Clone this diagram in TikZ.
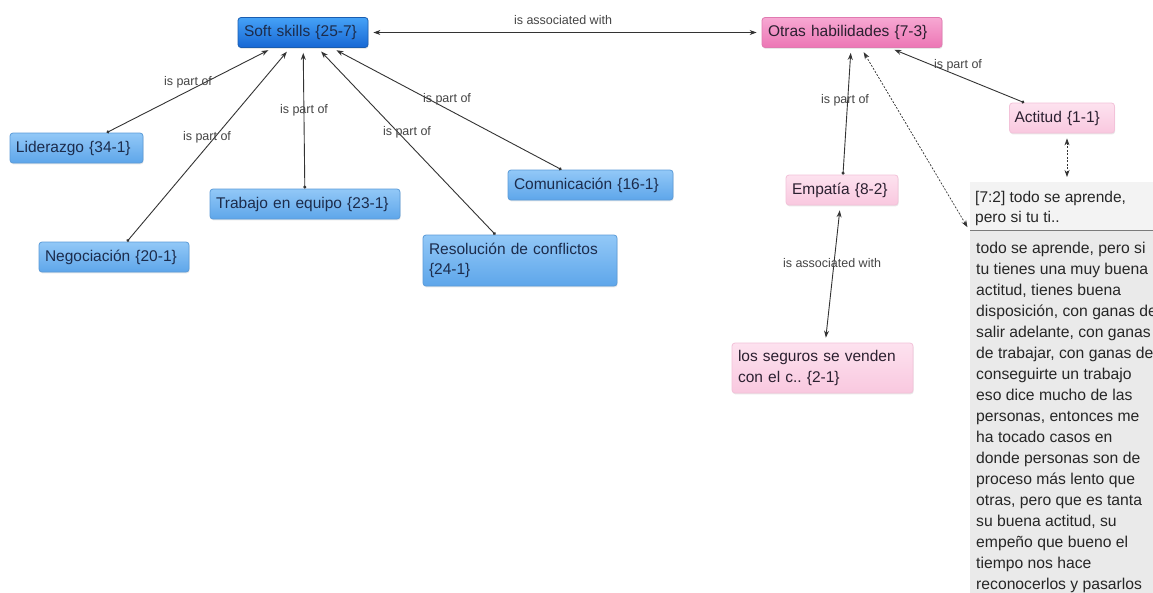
\documentclass[tikz,border=0pt]{standalone}
\usepackage{fontspec}
\setmainfont{Liberation Sans}
\usetikzlibrary{arrows.meta,shadows}
\frenchspacing

\definecolor{blueTop}{HTML}{92C8F7}
\definecolor{blueBot}{HTML}{5EA6EA}
\definecolor{blueLine}{HTML}{5B9BD8}
\definecolor{softTop}{HTML}{45A2F7}
\definecolor{softBot}{HTML}{1767D4}
\definecolor{softLine}{HTML}{1A5DB0}
\definecolor{magTop}{HTML}{F7A8D2}
\definecolor{magBot}{HTML}{EC76B5}
\definecolor{magLine}{HTML}{E07AB0}
\definecolor{pinkTop}{HTML}{FDE2EF}
\definecolor{pinkBot}{HTML}{F9C8DF}
\definecolor{pinkLine}{HTML}{F3C2D9}
\definecolor{quoteHead}{HTML}{F3F3F3}
\definecolor{quoteBody}{HTML}{EAEAEA}
\definecolor{quoteRule}{HTML}{7A7A7A}
\definecolor{linkGray}{HTML}{333333}
\definecolor{labelGray}{HTML}{454545}
\definecolor{navyText}{HTML}{1C2C4C}
\definecolor{plumText}{HTML}{2B2030}

\begin{document}
\begin{tikzpicture}[x=1pt,y=-1pt,
  nodefont/.style={font=\fontsize{15.5}{20.5}\selectfont},
  concept/.style={nodefont, rectangle, rounded corners=3pt, line width=0.8pt,
    inner xsep=6pt, inner ysep=2pt, minimum height=30pt, align=left,
    drop shadow={shadow xshift=0.6pt, shadow yshift=-1.4pt, opacity=0.18}},
  bluebox/.style={concept, draw=blueLine, top color=blueTop, bottom color=blueBot, text=navyText},
  softbox/.style={concept, draw=softLine, top color=softTop, bottom color=softBot, text=navyText},
  magbox/.style={concept, draw=magLine, top color=magTop, bottom color=magBot, text=plumText},
  pinkbox/.style={concept, draw=pinkLine, top color=pinkTop, bottom color=pinkBot, text=plumText},
  rel/.style={font=\fontsize{12.5}{14}\selectfont, text=labelGray, inner sep=0pt},
  link/.style={draw=linkGray, line width=0.9pt,
    {Circle[length=3pt]}-{Stealth[length=7pt,width=5pt]}, shorten >=5pt},
  twoway/.style={draw=linkGray, line width=0.9pt,
    {Stealth[length=7pt,width=5pt]}-{Stealth[length=7pt,width=5pt]}, shorten >=5pt, shorten <=5pt},
  dashlink/.style={twoway, line width=0.7pt, dash pattern=on 2pt off 1.5pt}
]
\clip (0,0) rectangle (1153,592);
\fill[white] (0,0) rectangle (1153,592);

% ---- concept nodes ----
\node[softbox, text width=118] (soft) at (303,32.5) {Soft skills \{25-7\}};
\node[magbox, text width=168] (otras) at (852,32.5) {Otras habilidades \{7-3\}};
\node[bluebox, text width=121] (lider) at (76.5,148) {Liderazgo \{34-1\}};
\node[bluebox, text width=138] (nego) at (114,257) {Negociación \{20-1\}};
\node[bluebox, text width=178] (trab) at (305,204) {Trabajo en equipo \{23-1\}};
\node[bluebox, text width=182, minimum height=51pt] (resol) at (520,260.5) {Resolución de conflictos\\\{24-1\}};
\node[bluebox, text width=153] (comu) at (590.5,185) {Comunicación \{16-1\}};
\node[pinkbox, text width=100] (emp) at (842,190) {Empatía \{8-2\}};
\node[pinkbox, text width=95, inner xsep=5pt] (acti) at (1062,118) {Actitud \{1-1\}};
\node[pinkbox, text width=169, minimum height=50pt] (seg) at (822.5,368) {los seguros se venden\\con el c.. \{2-1\}};

% ---- quotation box ----
\node[rectangle, fill=quoteBody, minimum width=200pt, minimum height=436pt,
      anchor=north west, inner sep=0pt] (quote) at (970,182) {};
\node[rectangle, fill=quoteHead, minimum width=200pt, minimum height=48pt,
      anchor=north west, inner sep=0pt] (qhead) at (quote.north west) {};
\draw[quoteRule, line width=1.6pt] (qhead.south west) -- (qhead.south east);
\node[font=\fontsize{15.5}{20.5}\selectfont, text=black!85, align=left,
      anchor=north west, inner sep=0pt] (qtitle) at (975,191)
  {[7:2] todo se aprende,\\pero si tu ti..};
\node[font=\fontsize{15.7}{21}\selectfont, text=black!85, align=left,
      anchor=north west, inner sep=0pt] (qtext) at (976,242)
  {todo se aprende, pero si\\
   tu tienes una muy buena\\
   actitud, tienes buena\\
   disposición, con ganas de\\
   salir adelante, con ganas\\
   de trabajar, con ganas de\\
   conseguirte un trabajo\\
   eso dice mucho de las\\
   personas, entonces me\\
   ha tocado casos en\\
   donde personas son de\\
   proceso más lento que\\
   otras, pero que es tanta\\
   su buena actitud, su\\
   empeño que bueno el\\
   tiempo nos hace\\
   reconocerlos y pasarlos};

% ---- connectors ----
\draw[twoway] (soft) -- (otras);
\draw[link] (lider) -- (soft);
\draw[link] (nego) -- (soft);
\draw[link] (trab) -- (soft);
\draw[link] (resol) -- (soft);
\draw[link] (comu) -- (soft);
\draw[link] (emp) -- (otras);
\draw[link] (acti) -- (otras);
\draw[twoway] (emp) -- (seg);
\draw[dashlink] (otras) -- (quote);
\draw[dashlink] ([xshift=5pt]acti.south) -- ([xshift=5pt]acti.south |- quote.north);

% ---- relation labels ----
\node[rel] (r1) at (563,20) {is associated with};
\node[rel] (r2) at (188,82) {is part of};
\node[rel] (r3) at (207,137) {is part of};
\node[rel] (r4) at (304,110) {is part of};
\node[rel] (r5) at (407,132) {is part of};
\node[rel] (r6) at (447,99) {is part of};
\node[rel] (r7) at (845,100) {is part of};
\node[rel] (r8) at (958,65) {is part of};
\node[rel] (r9) at (832,263) {is associated with};
\end{tikzpicture}
\end{document}
